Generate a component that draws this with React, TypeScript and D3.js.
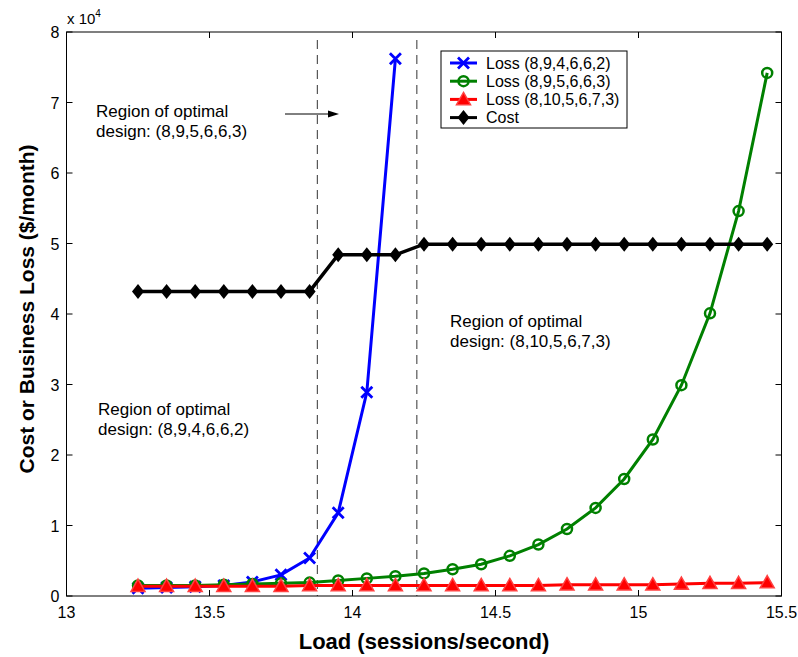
import React from "react";
import * as d3 from "d3";

const loads = [13.25, 13.35, 13.45, 13.55, 13.65, 13.75, 13.85, 13.95, 14.05, 14.15, 14.25, 14.35, 14.45, 14.55, 14.65, 14.75, 14.85, 14.95, 15.05, 15.15, 15.25, 15.35, 15.45];
const lossA = [0.11, 0.12, 0.13, 0.15, 0.2, 0.3, 0.54, 1.18, 2.89, 7.62];
const lossB = [0.15, 0.15, 0.15, 0.16, 0.17, 0.18, 0.19, 0.22, 0.25, 0.28, 0.32, 0.38, 0.45, 0.57, 0.73, 0.95, 1.25, 1.66, 2.22, 2.99, 4.01, 5.46, 7.42];
const lossC = [0.14, 0.14, 0.14, 0.14, 0.14, 0.14, 0.15, 0.15, 0.15, 0.15, 0.15, 0.15, 0.15, 0.15, 0.15, 0.16, 0.16, 0.16, 0.16, 0.17, 0.18, 0.18, 0.19];
const cost = [4.32, 4.32, 4.32, 4.32, 4.32, 4.32, 4.32, 4.84, 4.84, 4.84, 4.99, 4.99, 4.99, 4.99, 4.99, 4.99, 4.99, 4.99, 4.99, 4.99, 4.99, 4.99, 4.99];
const xTicks = [13, 13.5, 14, 14.5, 15, 15.5];
const yTicks = [0, 1, 2, 3, 4, 5, 6, 7, 8];
const boundaries = [13.877, 14.225];
const legendLabels = ["Loss (8,9,4,6,6,2)", "Loss (8,9,5,6,6,3)", "Loss (8,10,5,6,7,3)", "Cost"];

const W = 798, H = 657;
const L = 66.5, R = 781.5, T = 32, B = 596;
const FONT = "'Liberation Sans', Arial, Helvetica, sans-serif";

type MarkerKind = "x" | "o" | "tri" | "dia";

function Marker({ kind, cx, cy, color }: { kind: MarkerKind; cx: number; cy: number; color: string }) {
  if (kind === "x") {
    const s = 5.5;
    return (
      <path d={`M${cx - s},${cy - s}L${cx + s},${cy + s}M${cx - s},${cy + s}L${cx + s},${cy - s}`} stroke={color} strokeWidth={2.8} fill="none" />
    );
  }
  if (kind === "o") {
    return <circle cx={cx} cy={cy} r={5} stroke={color} strokeWidth={2.5} fill="none" />;
  }
  if (kind === "tri") {
    const s = 7;
    return (
      <path d={`M${cx},${cy - s}L${cx + s},${cy + s * 0.75}L${cx - s},${cy + s * 0.75}Z`} stroke="#ff4040" strokeWidth={1.5} fill={color} />
    );
  }
  const w = 6, h = 7.5;
  return <path d={`M${cx},${cy - h}L${cx + w},${cy}L${cx},${cy + h}L${cx - w},${cy}Z`} fill={color} />;
}

export default function App() {
  const x = d3.scaleLinear().domain([13, 15.5]).range([L, R]);
  const y = d3.scaleLinear().domain([0, 8]).range([B, T]);
  const line = d3.line<[number, number]>().x((d) => x(d[0])).y((d) => y(d[1]));

  const series: { vals: number[]; color: string; kind: MarkerKind }[] = [
    { vals: lossA, color: "#0000ff", kind: "x" },
    { vals: lossB, color: "#008000", kind: "o" },
    { vals: lossC, color: "#ff0000", kind: "tri" },
    { vals: cost, color: "#000000", kind: "dia" },
  ];

  const legX = 441, legY = 51, legW = 186, legH = 77;

  return (
    <svg width={W} height={H} style={{ display: "block", position: "absolute", left: 0, top: 0 }} fontFamily={FONT}>
      <rect width={W} height={H} fill="#fff" />
      {boundaries.map((b, i) => (
        <line key={i} x1={x(b)} x2={x(b)} y1={T + 8} y2={B} stroke="#333" strokeWidth={1} strokeDasharray="9,6" />
      ))}
      {series.map((s, si) => {
        const pts = s.vals.map((v, i) => [loads[i], v] as [number, number]);
        return (
          <g key={si}>
            <path d={line(pts) || ""} stroke={s.color} strokeWidth={s.kind === "dia" ? 3.5 : 3} fill="none" />
            {pts.map((p, i) => (
              <Marker key={i} kind={s.kind} cx={x(p[0])} cy={y(p[1])} color={s.color} />
            ))}
          </g>
        );
      })}
      <rect x={L} y={T} width={R - L} height={B - T} fill="none" stroke="#000" strokeWidth={1} />
      {xTicks.map((t) => (
        <g key={t}>
          <line x1={x(t)} x2={x(t)} y1={B} y2={B - 6} stroke="#000" />
          <line x1={x(t)} x2={x(t)} y1={T} y2={T + 6} stroke="#000" />
          <text x={x(t)} y={B + 22} fontSize={16} textAnchor="middle">{t}</text>
        </g>
      ))}
      {yTicks.map((t) => (
        <g key={t}>
          <line x1={L} x2={L + 6} y1={y(t)} y2={y(t)} stroke="#000" />
          <line x1={R} x2={R - 6} y1={y(t)} y2={y(t)} stroke="#000" />
          <text x={L - 7} y={y(t) + 6} fontSize={16} textAnchor="end">{t}</text>
        </g>
      ))}
      <text x={67} y={24} fontSize={15}>x 10<tspan dy={-7} fontSize={10}>4</tspan></text>
      <text x={424} y={649} fontSize={22} fontWeight="bold" textAnchor="middle">Load (sessions/second)</text>
      <text transform={`translate(34,${309}) rotate(-90)`} fontSize={21} fontWeight="bold" textAnchor="middle">Cost or Business Loss ($/month)</text>
      <text x={96} y={117} fontSize={17}>Region of optimal</text>
      <text x={96} y={137} fontSize={17}>design: (8,9,5,6,6,3)</text>
      <line x1={285} x2={332} y1={114} y2={114} stroke="#000" strokeWidth={1} />
      <path d="M339,114L328,110.5L328,117.5Z" fill="#000" />
      <text x={450} y={327} fontSize={17}>Region of optimal</text>
      <text x={450} y={347} fontSize={17}>design: (8,10,5,6,7,3)</text>
      <text x={98} y={415} fontSize={17}>Region of optimal</text>
      <text x={98} y={435} fontSize={17}>design: (8,9,4,6,6,2)</text>
      <rect x={legX} y={legY} width={legW} height={legH} fill="#fff" stroke="#000" strokeWidth={1} />
      {series.map((s, i) => {
        const cy = legY + 12 + i * 18.2;
        return (
          <g key={i}>
            <line x1={450} x2={477} y1={cy} y2={cy} stroke={s.color} strokeWidth={3} />
            <Marker kind={s.kind} cx={463.5} cy={cy} color={s.color} />
            <text x={486} y={cy + 5.5} fontSize={16}>{legendLabels[i]}</text>
          </g>
        );
      })}
    </svg>
  );
}
